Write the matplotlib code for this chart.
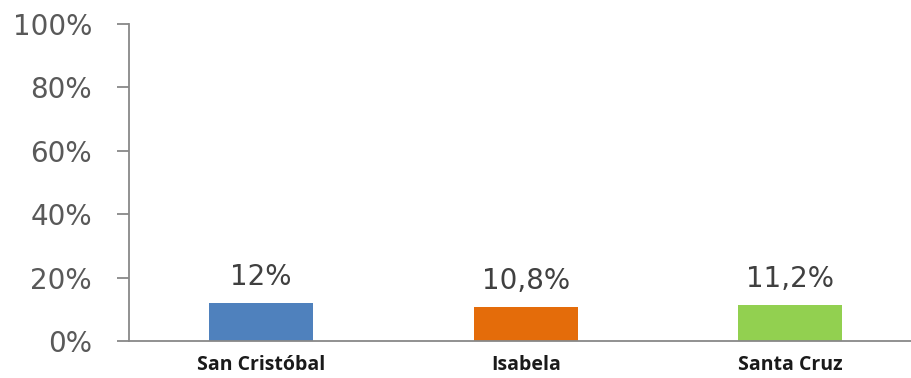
import matplotlib
matplotlib.use("Agg")
import matplotlib.pyplot as plt
from matplotlib.ticker import FuncFormatter

islands = ["San Cristóbal", "Isabela", "Santa Cruz"]
values = [12.0, 10.8, 11.2]
colors = ["#4F81BD", "#E46C0A", "#92D050"]
yticks = [0, 20, 40, 60, 80, 100]


def pct(v):
    # Spanish style: decimal comma, no trailing ",0"
    s = f"{v:.1f}".rstrip("0").rstrip(".")
    return s.replace(".", ",") + "%"


fig = plt.figure(figsize=(9.12, 3.78), dpi=100)
ax = fig.add_axes([129 / 912, 37 / 378, 793.5 / 912, 317 / 378])

x = range(len(islands))
bars = ax.bar(x, values, width=0.395, color=colors, zorder=2)

for b, v in zip(bars, values):
    ax.annotate(pct(v), (b.get_x() + b.get_width() / 2, v),
                xytext=(0, 13), textcoords="offset points",
                ha="center", va="baseline", fontsize=20, color="#404040")

ax.set_xlim(-0.5, len(islands) - 0.5)
ax.set_ylim(0, 100)
ax.set_yticks(yticks)
ax.yaxis.set_major_formatter(FuncFormatter(lambda v, _: f"{v:.0f}%"))
ax.set_xticks(list(x))
ax.set_xticklabels(islands, fontfamily="Open Sans", fontweight="bold", fontsize=14, color="#1a1a1a")

for side in ("top", "right"):
    ax.spines[side].set_visible(False)
for side in ("left", "bottom"):
    ax.spines[side].set_color("#888888")
    ax.spines[side].set_linewidth(1.3)

ax.tick_params(axis="y", length=8.6, width=1.3, color="#888888", pad=18,
               labelsize=20, labelcolor="#595959")
ax.tick_params(axis="x", length=0, pad=10)

fig.savefig("out.png", dpi=100)
